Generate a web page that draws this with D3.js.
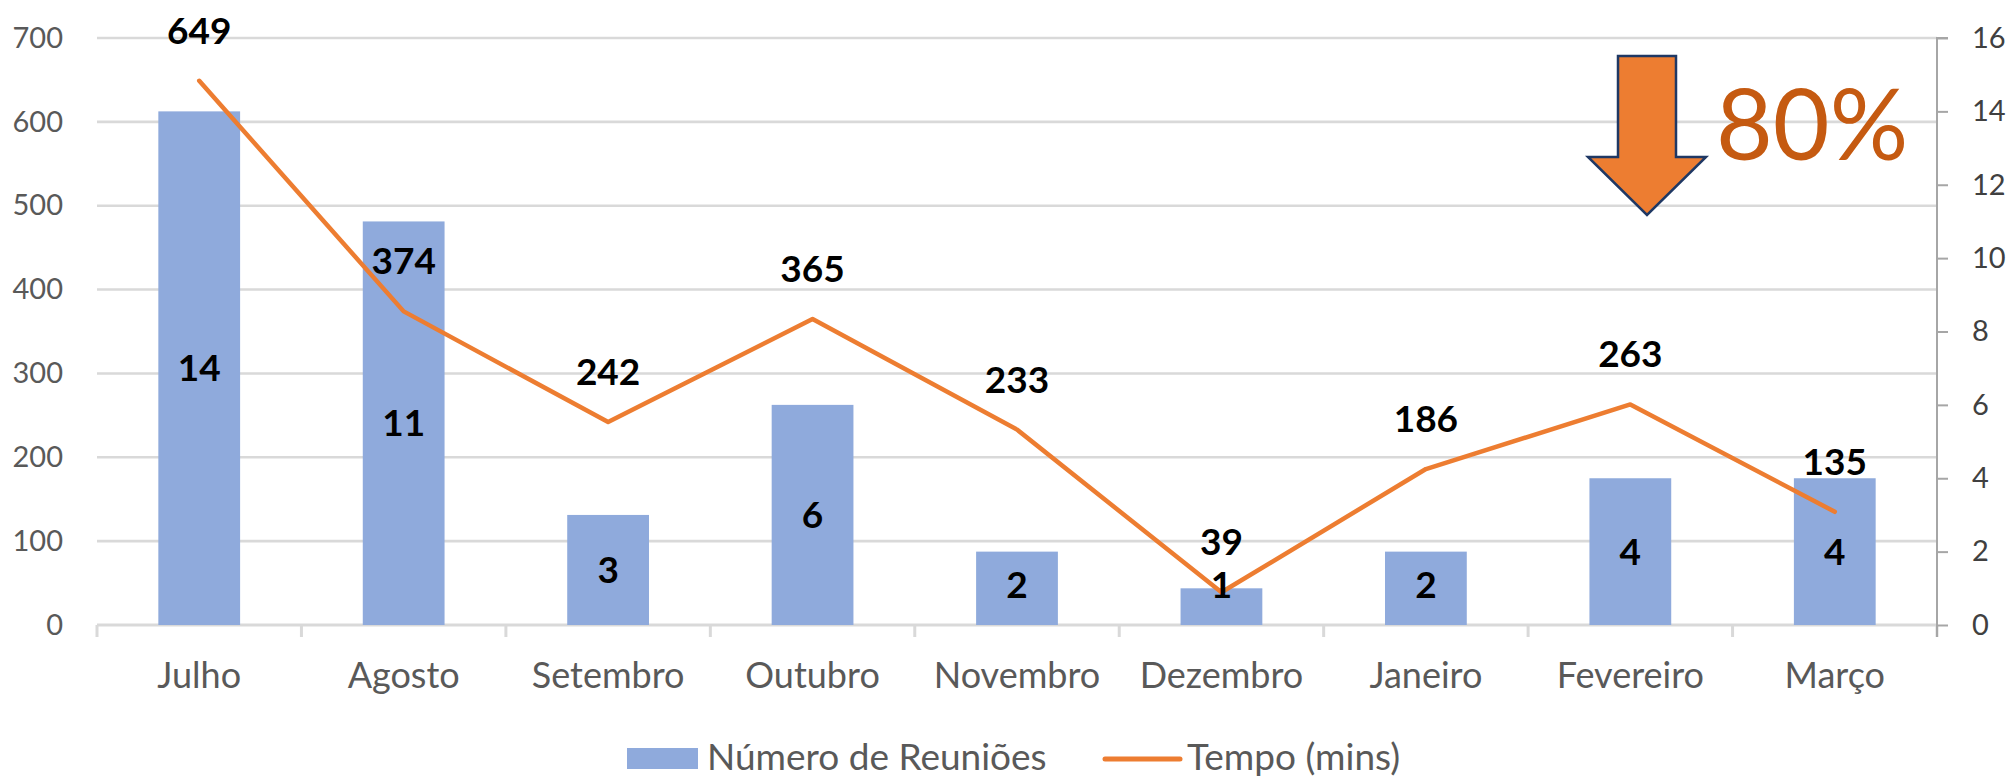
<!DOCTYPE html>
<html>
<head>
<meta charset="utf-8">
<script src="https://cdn.jsdelivr.net/npm/d3@7"></script>
<style>
  html, body { margin: 0; padding: 0; background: #fff; }
  svg { display: block; font-family: Lato, "Open Sans", sans-serif; }
</style>
</head>
<body>
<svg id="chart" width="2015" height="777"></svg>
<script>
const categories = ["Julho", "Agosto", "Setembro", "Outubro", "Novembro", "Dezembro", "Janeiro", "Fevereiro", "Março"];
const reunioes = [14, 11, 3, 6, 2, 1, 2, 4, 4];
const tempo = [649, 374, 242, 365, 233, 39, 186, 263, 135];
const leftTicks = [0, 100, 200, 300, 400, 500, 600, 700];
const rightTicks = [0, 2, 4, 6, 8, 10, 12, 14, 16];
const seriesNames = ["Número de Reuniões", "Tempo (mins)"];
const annotationText = "80%";

const svg = d3.select("#chart");
const W = 2015, H = 777;
const m = { left: 97, right: 2015 - 1937, top: 38, bottom: 777 - 625 };

const x = d3.scaleBand().domain(categories).range([m.left, W - m.right]).paddingInner(0.6).paddingOuter(0.3);
const xStep = d3.scaleBand().domain(categories).range([m.left, W - m.right]);
const yL = d3.scaleLinear().domain([0, 700]).range([H - m.bottom, m.top]);
const yR = d3.scaleLinear().domain([0, 16]).range([H - m.bottom, m.top]);
const y0 = yL(0);

const grid = "#D9D9D9", orange = "#ED7D31", blue = "#8FAADC";

// gridlines
svg.append("g").selectAll("line").data(leftTicks.filter(d => d > 0)).join("line")
  .attr("x1", m.left).attr("x2", W - m.right)
  .attr("y1", d => yL(d)).attr("y2", d => yL(d))
  .attr("stroke", grid).attr("stroke-width", 2.6);

// left axis labels
const gL = svg.append("g").attr("transform", `translate(${m.left},0)`)
  .call(d3.axisLeft(yL).tickValues(leftTicks).tickSize(0).tickPadding(34));
gL.select(".domain").remove();
gL.selectAll("text").attr("font-family", "Lato").attr("font-size", 29).attr("fill", "#595959");

// bottom axis
svg.append("line").attr("x1", m.left).attr("x2", W - m.right).attr("y1", y0).attr("y2", y0)
  .attr("stroke", grid).attr("stroke-width", 3);
const bounds = categories.map(c => xStep(c)).concat([W - m.right]);
svg.append("g").selectAll("line").data(bounds).join("line")
  .attr("x1", d => d).attr("x2", d => d).attr("y1", y0).attr("y2", y0 + 12)
  .attr("stroke", grid).attr("stroke-width", 3);
svg.append("g").selectAll("text").data(categories).join("text")
  .attr("x", d => xStep(d) + xStep.bandwidth() / 2).attr("y", 688)
  .attr("text-anchor", "middle").attr("font-size", 36).attr("fill", "#595959")
  .text(d => d);

// right axis
const gR = svg.append("g").attr("transform", `translate(${W - m.right},0)`)
  .call(d3.axisRight(yR).tickValues(rightTicks).tickSize(11).tickPadding(24));
gR.select(".domain").attr("stroke", "#A6A6A6").attr("stroke-width", 2)
  .attr("d", `M11,${yR(16)}H0V${y0 + 12}`);
gR.selectAll(".tick line").attr("stroke", "#A6A6A6").attr("stroke-width", 2);
gR.selectAll("text").attr("font-family", "Lato").attr("font-size", 29).attr("fill", "#404040");

// bars
svg.append("g").selectAll("rect").data(reunioes).join("rect")
  .attr("x", (d, i) => x(categories[i])).attr("width", x.bandwidth())
  .attr("y", d => yR(d)).attr("height", d => y0 - yR(d))
  .attr("fill", blue);

// line
const line = d3.line().x((d, i) => xStep(categories[i]) + xStep.bandwidth() / 2).y(d => yL(d));
svg.append("path").datum(tempo).attr("d", line)
  .attr("fill", "none").attr("stroke", orange).attr("stroke-width", 4.5)
  .attr("stroke-linejoin", "round").attr("stroke-linecap", "round");

// bar labels
svg.append("g").selectAll("text").data(reunioes).join("text")
  .attr("x", (d, i) => xStep(categories[i]) + xStep.bandwidth() / 2)
  .attr("y", d => Math.min((yR(d) + y0) / 2, y0 - 40) + 13)
  .attr("text-anchor", "middle").attr("font-size", 37).attr("font-weight", "bold").attr("fill", "#000")
  .text(d => d);

// line labels
svg.append("g").selectAll("text").data(tempo).join("text")
  .attr("x", (d, i) => xStep(categories[i]) + xStep.bandwidth() / 2)
  .attr("y", d => yL(d) - 37)
  .attr("text-anchor", "middle").attr("font-size", 37).attr("font-weight", "bold").attr("fill", "#000")
  .text(d => d);

// arrow annotation
const arrowPts = [[1618,56],[1676,56],[1676,157],[1706,157],[1647,215],[1588,157],[1618,157]];
svg.append("polygon").attr("points", arrowPts.map(p => p.join(",")).join(" "))
  .attr("fill", orange).attr("stroke", "#1F3864").attr("stroke-width", 2.5).attr("stroke-linejoin", "miter");
svg.append("text").attr("x", 1716).attr("y", 160).attr("font-size", 98).attr("fill", "#C55A11")
  .text(annotationText);

// legend
const lg = svg.append("g");
lg.append("rect").attr("x", 627).attr("y", 748).attr("width", 71).attr("height", 21).attr("fill", blue);
lg.append("text").attr("x", 707).attr("y", 770).attr("font-size", 37).attr("fill", "#595959").text(seriesNames[0]);
lg.append("line").attr("x1", 1105).attr("x2", 1180).attr("y1", 759).attr("y2", 759)
  .attr("stroke", orange).attr("stroke-width", 5).attr("stroke-linecap", "round");
lg.append("text").attr("x", 1187).attr("y", 770).attr("font-size", 37).attr("fill", "#595959").text(seriesNames[1]);
</script>
</body>
</html>
